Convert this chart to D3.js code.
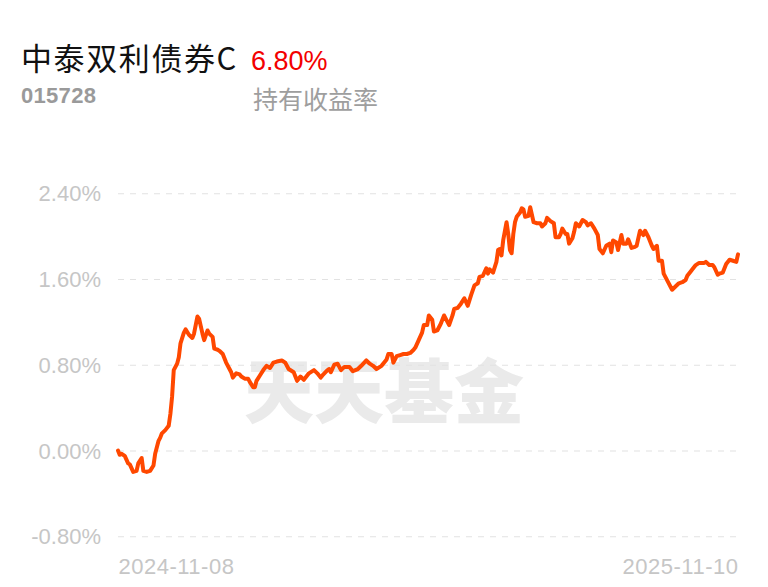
<!DOCTYPE html>
<html>
<head>
<meta charset="utf-8">
<script src="https://cdn.jsdelivr.net/npm/d3@7"></script>
<style>
  html, body { margin: 0; padding: 0; background: #fff; }
  svg { display: block; }
</style>
</head>
<body>
<svg id="chart" width="768" height="587"></svg>
<script>
const fundName = "中泰双利债券C";
const fundCode = "015728";
const totalReturn = "6.80%";
const returnLabel = "持有收益率";
const watermark = "天天基金";

const startDate = "2024-11-08";
const endDate = "2025-11-10";
const xTickLabels = ["2024-11-08", "2025-11-10"];
const yTickValues = [-0.8, 0, 0.8, 1.6, 2.4];

// calendar-day offsets from startDate
const dayOffsets = [
  0,1,2,4,6,7,9,11,12,14,
  15,17,19,21,22,24,25,26,28,30,
  31,32,33,35,36,37,39,40,42,44,
  45,47,48,50,51,53,54,56,57,59,
  60,62,64,66,67,68,70,72,73,75,
  77,78,80,81,82,84,86,88,90,92,
  94,97,99,101,104,106,108,110,113,116,
  118,120,121,124,125,126,128,130,132,134,
  137,139,142,144,147,149,151,153,156,159,
  160,162,163,165,167,169,171,173,175,176,
  178,180,181,183,184,186,187,189,191,193,
  195,196,198,199,201,203,205,207,209,211,
  213,214,216,218,219,220,222,224,225,226,
  227,228,230,231,232,233,234,235,236,238,
  239,240,241,243,244,246,248,250,251,253,
  254,256,258,259,261,262,263,265,266,267,
  269,270,271,273,275,277,278,280,282,284,
  285,287,289,291,292,293,295,296,298,299,
  301,302,304,306,307,309,311,312,314,316,
  317,319,320,322,323,325,328,330,332,334,
  336,337,339,340,342,344,347,348,350,352,
  353,355,356,358,360,362,364,366,367
];

// holding return, %
const returns = [
  0.00,-0.04,-0.03,-0.05,-0.12,-0.13,-0.20,-0.19,-0.12,-0.07,
  -0.19,-0.20,-0.19,-0.14,-0.03,0.09,0.12,0.16,0.19,0.23,
  0.34,0.50,0.75,0.81,0.87,1.00,1.10,1.13,1.08,1.05,
  1.09,1.25,1.23,1.09,1.03,1.12,1.09,1.06,0.95,0.94,
  0.93,0.90,0.82,0.76,0.73,0.68,0.72,0.71,0.69,0.67,
  0.67,0.64,0.59,0.59,0.65,0.70,0.75,0.79,0.77,0.82,
  0.83,0.84,0.82,0.76,0.73,0.65,0.69,0.66,0.72,0.75,
  0.72,0.68,0.70,0.75,0.76,0.73,0.80,0.81,0.75,0.78,
  0.78,0.74,0.76,0.79,0.84,0.81,0.79,0.76,0.79,0.85,
  0.90,0.90,0.82,0.88,0.89,0.90,0.90,0.91,0.94,0.96,
  1.03,1.10,1.17,1.17,1.26,1.22,1.11,1.12,1.18,1.26,
  1.20,1.17,1.26,1.32,1.33,1.37,1.42,1.35,1.45,1.54,
  1.56,1.62,1.63,1.70,1.65,1.69,1.66,1.76,1.87,1.88,
  1.82,1.96,2.13,2.02,1.87,1.84,2.02,2.13,2.18,2.22,
  2.26,2.25,2.18,2.19,2.27,2.13,2.12,2.12,2.09,2.12,
  2.17,2.14,2.12,1.99,1.99,2.02,2.07,2.02,2.02,1.93,
  1.98,2.04,2.12,2.09,2.15,2.13,2.10,2.12,2.07,2.01,
  1.88,1.84,1.91,1.93,1.85,1.96,1.94,1.87,2.01,1.93,
  1.93,1.97,1.89,1.90,1.91,2.05,2.01,2.05,1.99,1.91,
  1.88,1.91,1.77,1.77,1.65,1.59,1.50,1.53,1.56,1.57,
  1.59,1.63,1.67,1.69,1.73,1.75,1.75,1.76,1.73,1.73,
  1.71,1.64,1.65,1.66,1.74,1.78,1.77,1.76,1.83
];

const parse = d3.utcParse("%Y-%m-%d");
const t0 = parse(startDate);
const data = dayOffsets.map((d, i) => ({ date: d3.utcDay.offset(t0, d), value: returns[i] }));

const svg = d3.select("#chart");
const latin = "Helvetica, 'Liberation Sans', Arial, 'Noto Sans CJK SC', sans-serif";
const cjk = "'Noto Sans CJK SC', 'Noto Sans', sans-serif";

const x = d3.scaleUtc().domain([parse(startDate), parse(endDate)]).range([118, 738]);
const y = d3.scaleLinear().domain([-0.8, 2.4]).range([536.25, 193.25]);

// header
svg.append("text").attr("x", 21).attr("y", 70)
  .attr("font-family", cjk).attr("font-size", 31).attr("letter-spacing", 1.6).attr("fill", "#111")
  .text(fundName);
svg.append("text").attr("x", 251).attr("y", 70)
  .attr("font-family", latin).attr("font-size", 27).attr("fill", "#f30000")
  .text(totalReturn);
svg.append("text").attr("x", 21).attr("y", 103)
  .attr("font-family", latin).attr("font-size", 22).attr("font-weight", 600).attr("fill", "#9a9a9a")
  .attr("letter-spacing", 0.3)
  .text(fundCode);
svg.append("text").attr("x", 253).attr("y", 109)
  .attr("font-family", cjk).attr("font-size", 25).attr("fill", "#9e9e9e")
  .text(returnLabel);

// watermark
svg.append("text").attr("x", 384).attr("y", 418)
  .attr("text-anchor", "middle")
  .attr("font-family", cjk).attr("font-size", 70).attr("font-weight", 900)
  .attr("fill", "#eaeaea")
  .text(watermark);

// y axis with grid
const yAxis = d3.axisLeft(y)
  .tickValues(yTickValues)
  .tickSize(-(738 - 118))
  .tickPadding(17)
  .tickFormat(d => d.toFixed(2) + "%");
const gy = svg.append("g").attr("transform", "translate(118,0)").call(yAxis);
gy.select(".domain").remove();
gy.selectAll(".tick line").attr("stroke", "#e2e2e2").attr("stroke-width", 1.2).attr("stroke-dasharray", "6,6");
gy.selectAll(".tick text").attr("font-family", latin).attr("font-size", 22).attr("fill", "#c6c6c6").attr("dy", "0.35em");

// x axis labels
const xAxis = d3.axisBottom(x)
  .tickValues(xTickLabels.map(parse))
  .tickSize(0)
  .tickPadding(0)
  .tickFormat(d3.utcFormat("%Y-%m-%d"));
const gx = svg.append("g").attr("transform", "translate(0,574)").call(xAxis);
gx.select(".domain").remove();
gx.selectAll(".tick text")
  .attr("font-family", latin).attr("font-size", 22).attr("fill", "#c6c6c6")
  .attr("letter-spacing", 0.5)
  .attr("dy", 0)
  .attr("text-anchor", (d, i) => i === 0 ? "start" : "end");

// line
const line = d3.line().x(d => x(d.date)).y(d => y(d.value)).curve(d3.curveLinear);
svg.append("path").datum(data)
  .attr("d", line)
  .attr("fill", "none")
  .attr("stroke", "#ff4800")
  .attr("stroke-width", 4)
  .attr("stroke-linejoin", "round")
  .attr("stroke-linecap", "round");
</script>
</body>
</html>
